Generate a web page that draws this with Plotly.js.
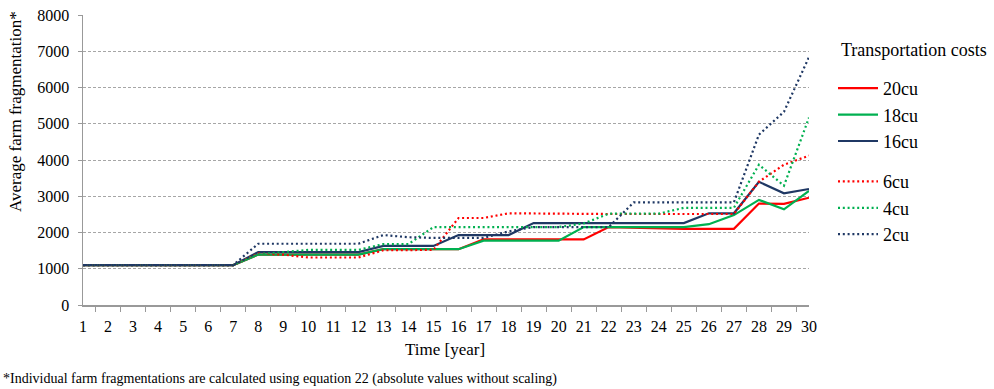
<!DOCTYPE html>
<html>
<head>
<meta charset="utf-8">
<script src="https://cdn.plot.ly/plotly-3.0.1.min.js"></script>
<style>html,body{margin:0;padding:0;background:#fff;}#chart{width:994px;height:389px;}</style>
</head>
<body>
<div id="chart"></div>
<script>
const years = ["1","2","3","4","5","6","7","8","9","10","11","12","13","14","15","16","17","18","19","20","21","22","23","24","25","26","27","28","29","30"];
const seriesNames = ["20cu","18cu","16cu","6cu","4cu","2cu"];
const cu20 = [1100,1100,1100,1100,1100,1100,1100,1390,1390,1390,1390,1390,1540,1540,1540,1540,1810,1810,1810,1810,1810,2150,2130,2100,2100,2100,2100,2800,2790,2960];
const cu18 = [1100,1100,1100,1100,1100,1100,1100,1390,1390,1390,1390,1390,1540,1540,1540,1540,1775,1775,1775,1775,2150,2150,2150,2150,2150,2230,2480,2900,2640,3150];
const cu16 = [1100,1100,1100,1100,1100,1100,1100,1460,1460,1460,1460,1460,1630,1630,1630,1930,1930,1930,2260,2260,2260,2260,2260,2260,2260,2530,2530,3400,3080,3200];
const cu6  = [1100,1100,1100,1100,1100,1100,1100,1420,1390,1310,1310,1310,1510,1520,1520,2400,2400,2530,2520,2520,2520,2510,2510,2510,2510,2510,2510,3400,3870,4120];
const cu4  = [1100,1100,1100,1100,1100,1100,1100,1400,1460,1520,1520,1520,1680,1680,2150,2150,2150,2150,2150,2150,2250,2520,2520,2520,2680,2680,2680,3870,3290,5170];
const cu2  = [1100,1100,1100,1100,1100,1100,1100,1690,1690,1690,1690,1690,1930,1870,1850,1850,1850,2030,2150,2150,2150,2150,2830,2830,2830,2830,2830,4700,5330,6840];
const yTicks = [0,1000,2000,3000,4000,5000,6000,7000,8000];

const RED = '#FF0000', GREEN = '#00B050', NAVY = '#1F3864';
const FONT = 'Liberation Serif, Times New Roman, serif';
const dotDash = '2px,2.8px';

function tr(y, name, color, dotted, group) {
  return {
    x: years, y: y, name: name, type: 'scatter', mode: 'lines',
    legendgroup: group,
    line: {color: color, width: 2.2, dash: dotted ? dotDash : 'solid'},
    hoverinfo: 'x+y+name'
  };
}
const data = [
  tr(cu20, seriesNames[0], RED, false, 'solid'),
  tr(cu18, seriesNames[1], GREEN, false, 'solid'),
  tr(cu16, seriesNames[2], NAVY, false, 'solid'),
  tr(cu6, seriesNames[3], RED, true, 'dotted'),
  tr(cu4, seriesNames[4], GREEN, true, 'dotted'),
  tr(cu2, seriesNames[5], NAVY, true, 'dotted')
];

const L = 83, R = 809, T = 15, B = 305;
const W = R - L, H = B - T;
const px = v => (v - L) / W;
const py = v => (B - v) / H;

const layout = {
  width: 994, height: 389,
  margin: {l: L, r: 994 - R, t: T, b: 389 - B, pad: 0},
  paper_bgcolor: '#fff', plot_bgcolor: '#fff',
  font: {family: FONT, color: '#000', size: 15},
  showlegend: true,
  legend: {
    x: px(833), y: py(70), xanchor: 'left', yanchor: 'top',
    font: {family: FONT, size: 18, color: '#000'},
    traceorder: 'grouped', tracegroupgap: 14,
    bgcolor: 'rgba(0,0,0,0)', borderwidth: 0, itemwidth: 40
  },
  xaxis: {
    type: 'category', categoryorder: 'array', categoryarray: years,
    tickmode: 'array', tickvals: years, ticktext: years,
    tickson: 'boundaries', ticks: 'outside', ticklen: 5, tickcolor: '#999', tickwidth: 1,
    showline: true, linecolor: '#999', linewidth: 1.5,
    showgrid: false, zeroline: false,
    tickfont: {family: FONT, size: 16, color: '#000'},
    ticklabelstandoff: 6,
    fixedrange: true
  },
  yaxis: {
    range: [0, 8000], tickmode: 'array', tickvals: yTicks, ticktext: yTicks.map(String),
    ticks: 'outside', ticklen: 4, tickcolor: '#999', tickwidth: 1,
    showline: true, linecolor: '#999', linewidth: 1.5,
    showgrid: true, gridcolor: '#a6a6a6', gridwidth: 1, griddash: '3px,2px',
    zeroline: false,
    tickfont: {family: FONT, size: 16, color: '#000'},
    ticklabelstandoff: 5,
    fixedrange: true
  },
  annotations: [
    {text: 'Transportation costs', xref: 'paper', yref: 'paper', x: px(839), y: py(50), xanchor: 'left', yanchor: 'middle', showarrow: false, font: {family: FONT, size: 18, color: '#000'}},
    {text: 'Average farm fragmentation*', xref: 'paper', yref: 'paper', x: px(15), y: py(112), xanchor: 'center', yanchor: 'middle', textangle: -90, showarrow: false, font: {family: FONT, size: 17, color: '#000'}},
    {text: 'Time [year]', xref: 'paper', yref: 'paper', x: px(445), y: py(349), xanchor: 'center', yanchor: 'middle', showarrow: false, font: {family: FONT, size: 17, color: '#000'}},
    {text: '*Individual farm fragmentations are calculated using equation 22 (absolute values without scaling)', xref: 'paper', yref: 'paper', x: px(1), y: py(379), xanchor: 'left', yanchor: 'middle', showarrow: false, font: {family: FONT, size: 14, color: '#000'}}
  ]
};

Plotly.newPlot('chart', data, layout, {staticPlot: true, displayModeBar: false});
</script>
</body>
</html>
